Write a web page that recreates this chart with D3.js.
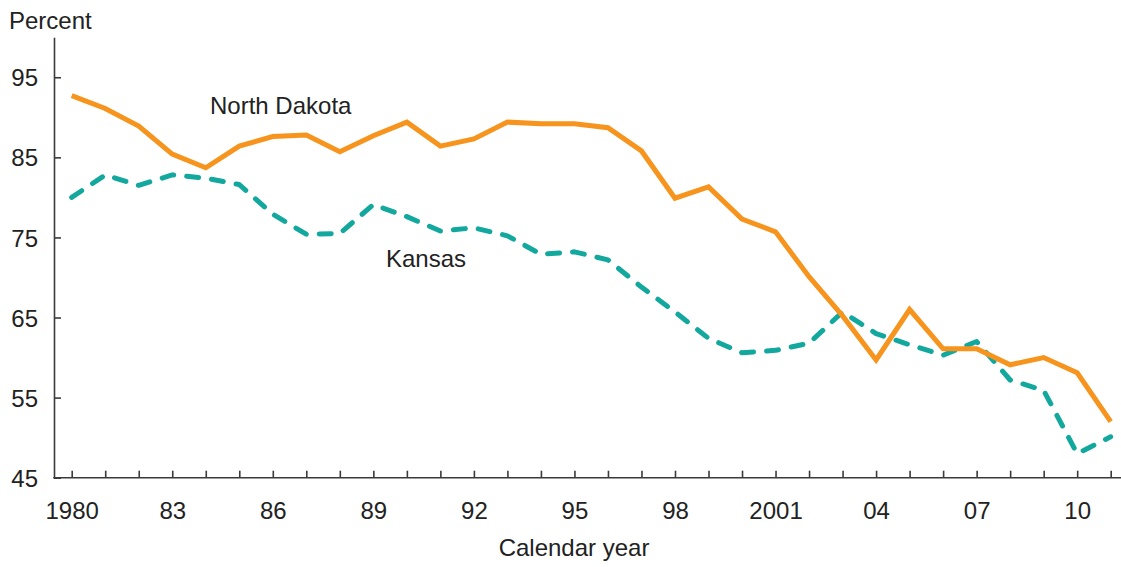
<!DOCTYPE html>
<html>
<head>
<meta charset="utf-8">
<script src="https://cdn.jsdelivr.net/npm/d3@7"></script>
<style>
  html, body { margin: 0; padding: 0; background: #fff; }
  svg { display: block; font-family: "Liberation Sans", Arial, Helvetica, sans-serif; }
</style>
</head>
<body>
<svg id="chart" width="1121" height="567"></svg>
<script>
const years = d3.range(1980, 2012);
const northDakota = [92.7, 91.1, 88.9, 85.4, 83.7, 86.4, 87.6, 87.8, 85.7, 87.7,
                     89.4, 86.4, 87.3, 89.4, 89.2, 89.2, 88.7, 85.8, 79.9, 81.3,
                     77.3, 75.7, 70.1, 65.2, 59.7, 66.0, 61.1, 61.1, 59.1, 60.0,
                     58.1, 52.0];
const kansas = [80.0, 82.8, 81.5, 82.8, 82.4, 81.6, 77.9, 75.4, 75.5, 79.1,
                77.6, 75.8, 76.2, 75.2, 72.9, 73.2, 72.2, 68.8, 65.7, 62.4,
                60.6, 60.9, 61.8, 65.7, 63.0, 61.6, 60.3, 62.0, 57.2, 55.9,
                48.0, 50.1];
const yTicks = [45, 55, 65, 75, 85, 95];
const xTickLabels = {1980: "1980", 1983: "83", 1986: "86", 1989: "89", 1992: "92",
  1995: "95", 1998: "98", 2001: "2001", 2004: "04", 2007: "07", 2010: "10"};
const seriesNames = ["North Dakota", "Kansas"];

const svg = d3.select("#chart");
const axisColor = "#3a3a3a";
const fontSize = 24;

const x = d3.scaleLinear().domain([1980, 2011]).range([71.7, 1110.7]);
const y = d3.scaleLinear().domain([45, 100]).range([477.7, 37.2]);

// Y axis
const yAxis = svg.append("g").attr("transform", "translate(54,0)")
  .call(d3.axisLeft(y).tickValues(yTicks).tickSizeInner(-7).tickSizeOuter(0).tickPadding(16));
yAxis.select(".domain").attr("stroke", axisColor).attr("stroke-width", 1.6);
yAxis.selectAll(".tick line").attr("stroke", axisColor).attr("stroke-width", 1.6);
yAxis.selectAll(".tick text").attr("font-size", fontSize).attr("fill", "#222")
  .attr("font-family", "Liberation Sans, Arial, sans-serif").attr("dy", "0.36em");

// X axis
const xAxis = svg.append("g").attr("transform", "translate(0,477.7)")
  .call(d3.axisBottom(x).tickValues(years).tickSizeInner(-7).tickSizeOuter(0)
    .tickFormat(d => xTickLabels[d] || ""));
xAxis.select(".domain").remove();
xAxis.selectAll(".tick line").attr("stroke", axisColor).attr("stroke-width", 1.6);
xAxis.selectAll(".tick text").attr("font-size", fontSize).attr("fill", "#222")
  .attr("font-family", "Liberation Sans, Arial, sans-serif")
  .attr("dy", null).attr("y", 41.5);
svg.append("line").attr("x1", 53.2).attr("x2", 1121).attr("y1", 477.7).attr("y2", 477.7)
  .attr("stroke", axisColor).attr("stroke-width", 1.6);

// Titles
svg.append("text").attr("x", 9).attr("y", 28.5).attr("font-size", fontSize).attr("fill", "#222")
  .text("Percent");
svg.append("text").attr("x", 574).attr("y", 556).attr("text-anchor", "middle")
  .attr("font-size", fontSize).attr("fill", "#222").text("Calendar year");

// Lines
const line = d3.line().x((d, i) => x(years[i])).y(d => y(d));
svg.append("path").datum(kansas).attr("d", line)
  .attr("fill", "none").attr("stroke", "#13A89E").attr("stroke-width", 5)
  .attr("stroke-dasharray", "12,13").attr("stroke-linecap", "round").attr("stroke-linejoin", "round");
svg.append("path").datum(northDakota).attr("d", line)
  .attr("fill", "none").attr("stroke", "#F7941D").attr("stroke-width", 5)
  .attr("stroke-linejoin", "miter").attr("stroke-linecap", "butt");

// Series labels
svg.append("text").attr("x", 210).attr("y", 114).attr("font-size", fontSize).attr("fill", "#222")
  .text(seriesNames[0]);
svg.append("text").attr("x", 386).attr("y", 267).attr("font-size", fontSize).attr("fill", "#222")
  .text(seriesNames[1]);
</script>
</body>
</html>
